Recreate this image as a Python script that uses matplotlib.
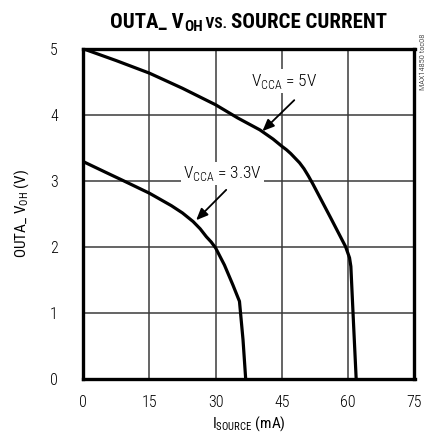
import matplotlib
matplotlib.use("Agg")
import matplotlib.pyplot as plt

FAM = ['Roboto Condensed', 'DejaVu Sans']
plt.rcParams['font.family'] = FAM
plt.rcParams['font.weight'] = 'light'
plt.rcParams['mathtext.fontset'] = 'custom'
plt.rcParams['mathtext.rm'] = 'Roboto Condensed:light'

# ---- data ----
i_5v = [0, 7.5, 15, 22.5, 30, 35, 40, 43, 45, 46, 47, 48, 49, 50, 51, 52, 56, 59.4, 60.3, 60.6, 61.2, 61.8]
v_5v = [5.0, 4.82, 4.63, 4.40, 4.15, 3.95, 3.77, 3.63, 3.52, 3.47, 3.41, 3.34, 3.27, 3.18, 3.07, 2.95, 2.44, 2.0, 1.83, 1.70, 0.84, 0.0]

i_33v = [0, 5, 9.1, 15, 20, 22.5, 24.9, 26.5, 27.9, 29, 30, 32, 33.9, 35.4, 36.2, 36.8]
v_33v = [3.29, 3.13, 3.0, 2.81, 2.62, 2.51, 2.38, 2.27, 2.15, 2.07, 1.98, 1.72, 1.42, 1.17, 0.59, 0.0]

x_ticks = [0, 15, 30, 45, 60, 75]
y_ticks = [0, 1, 2, 3, 4, 5]

fig = plt.figure(figsize=(4.27, 4.40), dpi=100)
ax = fig.add_axes([83/427, 1-378.5/440, 331.5/427, 329.8/440])

ax.set_xlim(0, 75)
ax.set_ylim(0, 5)
ax.set_xticks(x_ticks)
ax.set_yticks(y_ticks)
ax.tick_params(length=0, labelsize=11.5, pad=12)
ax.tick_params(axis='y', pad=18)
ax.grid(True, color='#3a3a3a', linewidth=1.1)
ax.set_axisbelow(True)
for s in ax.spines.values():
    s.set_linewidth(2.4)
    s.set_color('black')

ax.plot(i_5v, v_5v, color='black', lw=2.3, solid_joinstyle='round', zorder=3)
ax.plot(i_33v, v_33v, color='black', lw=2.3, solid_joinstyle='round', zorder=3)

arrowprops = dict(arrowstyle='-|>,head_length=0.7,head_width=0.3', color='black', lw=1.3,
                  shrinkA=0, shrinkB=0)
ax.annotate('', xy=(40.6, 3.75), xytext=(47.8, 4.22), arrowprops=arrowprops, zorder=4)
ax.annotate('', xy=(25.6, 2.40), xytext=(32.4, 2.86), arrowprops=arrowprops, zorder=4)

bbox = dict(facecolor='white', edgecolor='none', pad=1.5)
ax.text(45.6, 4.51, r'V$_\mathregular{CCA}$ = 5V', ha='center', va='center', fontsize=12.5,
        bbox=bbox, zorder=2.5)
ax.text(31.6, 3.11, r'V$_\mathregular{CCA}$ = 3.3V', ha='center', va='center', fontsize=12.5,
        bbox=bbox, zorder=2.5)

ax.set_xlabel(r'I$_\mathregular{SOURCE}$ (mA)', fontsize=11, labelpad=3)
ax.set_ylabel(r'OUTA_ V$_\mathregular{OH}$ (V)', fontsize=11, labelpad=14)

fig.text(423/427, 1-62/440, 'MAX14850 toc08', rotation=90, fontsize=6,
         ha='center', va='center')

# title composed of pieces
fig.canvas.draw()
r = fig.canvas.get_renderer()
pieces = [("OUTA_ V", 15, 0), ("OH", 11, -3), (" VS. ", 11, 0), ("SOURCE CURRENT", 15, 0)]
base_y = 440 - 28
x = 0
texts = []
for s, sz, dy in pieces:
    t = fig.text(x/427, (base_y + dy)/440, s, fontsize=sz, fontweight='bold',
                 ha='left', va='baseline')
    ext = t.get_window_extent(r)
    texts.append(t)
    x += ext.width
total = x
start = 248.5 - total/2
x = start
for t, (s, sz, dy) in zip(texts, pieces):
    ext = t.get_window_extent(r)
    t.set_x(x/427)
    x += ext.width

fig.savefig('out.png', dpi=100)
